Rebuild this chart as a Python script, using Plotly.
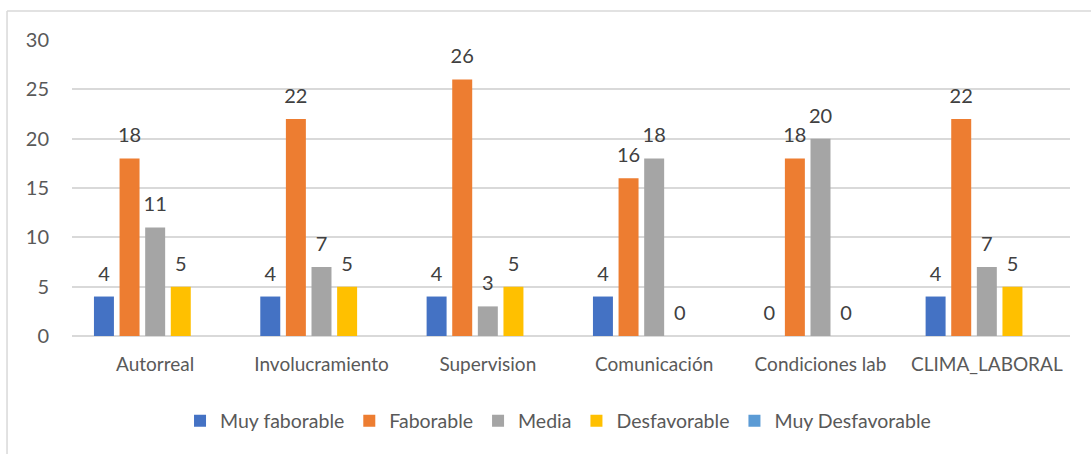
import plotly.graph_objects as go

categories = ["Autorreal", "Involucramiento", "Supervision", "Comunicación", "Condiciones lab", "CLIMA_LABORAL"]
series_names = ["Muy faborable", "Faborable", "Media", "Desfavorable", "Muy Desfavorable"]
muy_faborable = [4, 4, 4, 4, 0, 4]
faborable = [18, 22, 26, 16, 18, 22]
media = [11, 7, 3, 18, 20, 7]
desfavorable = [5, 5, 5, 0, 0, 5]
muy_desfavorable = [None, None, None, None, None, None]
y_ticks = [0, 5, 10, 15, 20, 25, 30]

colors = ["#4472C4", "#ED7D31", "#A5A5A5", "#FFC000", "#5B9BD5"]
all_series = [muy_faborable, faborable, media, desfavorable, muy_desfavorable]

FONT = "Lato"
TXT = "#595959"
BARGAP = 0.23

fig = go.Figure()
for name, vals, col in zip(series_names, all_series, colors):
    fig.add_trace(go.Bar(
        x=categories, y=vals, name=name, marker=dict(color=col, line=dict(width=0)),
        hoverinfo="skip",
    ))

for i, (name, vals) in enumerate(zip(series_names, all_series)):
    ys = [v if v is not None else 0 for v in vals]
    txt = [str(v) if v is not None else "" for v in vals]
    fig.add_trace(go.Scatter(
        x=categories, y=ys, mode="markers+text", text=txt,
        textposition="top center",
        textfont=dict(family=FONT, size=20, color="#404040"),
        marker=dict(size=16, color="rgba(0,0,0,0)"),
        offsetgroup="s%d" % i, alignmentgroup="lbl",
        showlegend=False, hoverinfo="skip", cliponaxis=False,
    ))

fig.update_layout(
    width=1091, height=454,
    margin=dict(l=72, r=21, t=40, b=118),
    paper_bgcolor="white", plot_bgcolor="white",
    barmode="group", bargap=BARGAP, bargroupgap=0.22,
    scattermode="group", scattergap=BARGAP,
    font=dict(family=FONT, size=19, color=TXT),
    showlegend=True,
    legend=dict(orientation="h", x=0.487, xanchor="center", y=-0.287, yanchor="middle",
                font=dict(family=FONT, size=19.5, color=TXT), itemwidth=30,
                traceorder="normal"),
    xaxis=dict(showgrid=False, showline=False, ticks="", ticklabelstandoff=15,
               tickfont=dict(family=FONT, size=19, color=TXT)),
    yaxis=dict(range=[0, 30], tickvals=y_ticks, showgrid=True, gridcolor="#D9D9D9", gridwidth=1.5,
               zeroline=True, zerolinecolor="#D9D9D9", zerolinewidth=1.5,
               ticks="", ticklabelstandoff=22, tickfont=dict(family=FONT, size=20, color=TXT)),
    shapes=[
        dict(type="line", xref="paper", yref="paper", x0=-0.0651, x1=1.03, y0=1.098, y1=1.098,
             line=dict(color="#D9D9D9", width=1.5)),
        dict(type="line", xref="paper", yref="paper", x0=-0.0651, x1=-0.0651, y0=1.098, y1=-0.41,
             line=dict(color="#D9D9D9", width=1.5)),
    ],
)

fig.write_html("out.html")
